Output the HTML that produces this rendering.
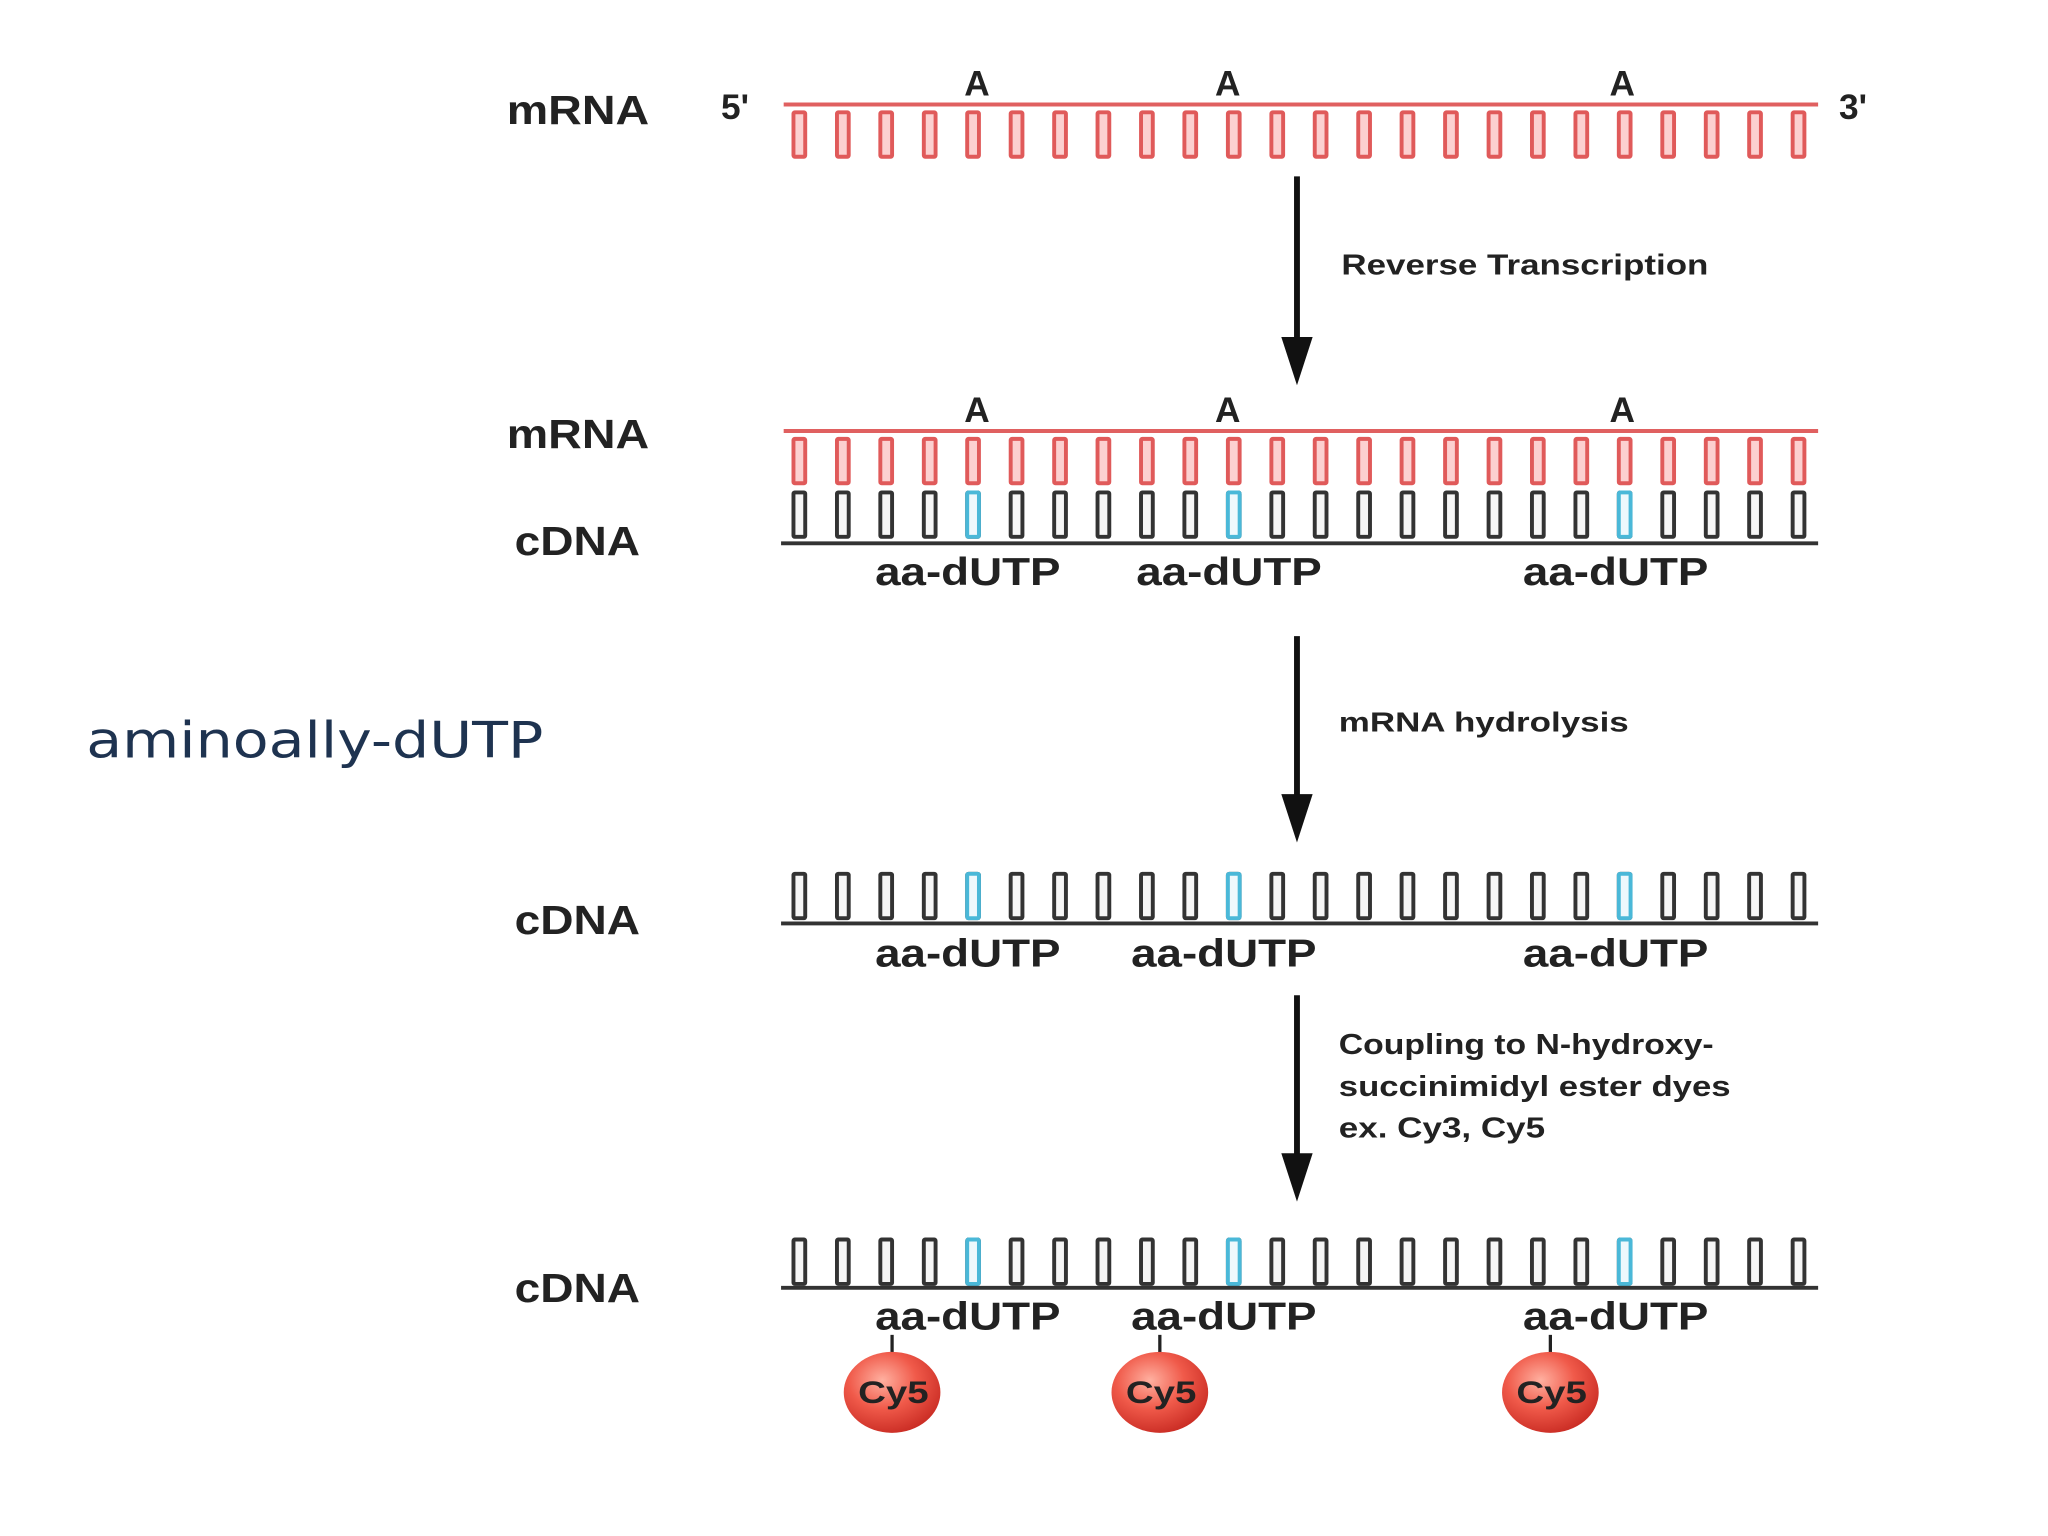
<!DOCTYPE html>
<html><head><meta charset="utf-8">
<style>
html,body{margin:0;padding:0;background:#fff;}
svg{display:block;}
.b{font-family:"Liberation Sans",Arial,sans-serif;font-weight:bold;fill:#222;}
</style></head>
<body>
<svg width="2048" height="1536" viewBox="0 0 1568 1176" xmlns="http://www.w3.org/2000/svg">
<defs>
<g id="bars" stroke-width="3">
<rect x="607.5" y="0" width="9" height="34" rx="1"/>
<rect x="640.8" y="0" width="9" height="34" rx="1"/>
<rect x="674.0" y="0" width="9" height="34" rx="1"/>
<rect x="707.3" y="0" width="9" height="34" rx="1"/>
<rect x="740.5" y="0" width="9" height="34" rx="1"/>
<rect x="773.8" y="0" width="9" height="34" rx="1"/>
<rect x="807.1" y="0" width="9" height="34" rx="1"/>
<rect x="840.3" y="0" width="9" height="34" rx="1"/>
<rect x="873.6" y="0" width="9" height="34" rx="1"/>
<rect x="906.8" y="0" width="9" height="34" rx="1"/>
<rect x="940.1" y="0" width="9" height="34" rx="1"/>
<rect x="973.4" y="0" width="9" height="34" rx="1"/>
<rect x="1006.6" y="0" width="9" height="34" rx="1"/>
<rect x="1039.9" y="0" width="9" height="34" rx="1"/>
<rect x="1073.1" y="0" width="9" height="34" rx="1"/>
<rect x="1106.4" y="0" width="9" height="34" rx="1"/>
<rect x="1139.7" y="0" width="9" height="34" rx="1"/>
<rect x="1172.9" y="0" width="9" height="34" rx="1"/>
<rect x="1206.2" y="0" width="9" height="34" rx="1"/>
<rect x="1239.4" y="0" width="9" height="34" rx="1"/>
<rect x="1272.7" y="0" width="9" height="34" rx="1"/>
<rect x="1306.0" y="0" width="9" height="34" rx="1"/>
<rect x="1339.2" y="0" width="9" height="34" rx="1"/>
<rect x="1372.5" y="0" width="9" height="34" rx="1"/>
</g>
<g id="blue" fill="#eef8fc" stroke="#4ab8d8" stroke-width="3">
<rect x="740.5" y="0" width="9" height="34" rx="1"/>
<rect x="940.1" y="0" width="9" height="34" rx="1"/>
<rect x="1239.4" y="0" width="9" height="34" rx="1"/>
</g>
<radialGradient id="cy" cx="0.4" cy="0.35" r="0.7">
<stop offset="0" stop-color="#ffb0a0"/>
<stop offset="0.5" stop-color="#f05a4a"/>
<stop offset="1" stop-color="#c82a22"/>
</radialGradient>
</defs>

<!-- Row 1 -->
<text class="b" x="388" y="95" font-size="31" textLength="109" lengthAdjust="spacingAndGlyphs">mRNA</text>
<text class="b" x="552" y="91" font-size="27">5'</text>
<text class="b" x="1408" y="91" font-size="27">3'</text>
<text class="b" x="748" y="73" font-size="27" text-anchor="middle">A</text>
<text class="b" x="940" y="73" font-size="27" text-anchor="middle">A</text>
<text class="b" x="1242" y="73" font-size="27" text-anchor="middle">A</text>
<line x1="600" y1="80" x2="1392" y2="80" stroke="#e06060" stroke-width="3"/>
<use href="#bars" y="86" stroke="#e05a5a" fill="#fcd0d0"/>

<!-- Arrow 1 -->
<line x1="993" y1="135" x2="993" y2="265" stroke="#111" stroke-width="4.5"/>
<polygon points="981,258 1005,258 993,295" fill="#111"/>
<text class="b" x="1027" y="210" font-size="22" fill="#333" textLength="281" lengthAdjust="spacingAndGlyphs">Reverse Transcription</text>

<!-- Row 2 -->
<text class="b" x="388" y="343" font-size="31" textLength="109" lengthAdjust="spacingAndGlyphs">mRNA</text>
<text class="b" x="394" y="425" font-size="31" textLength="96" lengthAdjust="spacingAndGlyphs">cDNA</text>
<text class="b" x="748" y="323" font-size="27" text-anchor="middle">A</text>
<text class="b" x="940" y="323" font-size="27" text-anchor="middle">A</text>
<text class="b" x="1242" y="323" font-size="27" text-anchor="middle">A</text>
<line x1="600" y1="330" x2="1392" y2="330" stroke="#e06060" stroke-width="3"/>
<use href="#bars" y="336" stroke="#e05a5a" fill="#fcd0d0"/>
<use href="#bars" y="377" stroke="#333" fill="#f6f6f6"/>
<use href="#blue" y="377"/>
<line x1="598" y1="416" x2="1392" y2="416" stroke="#333" stroke-width="3"/>
<text class="b" x="670" y="448" font-size="30" textLength="142" lengthAdjust="spacingAndGlyphs">aa-dUTP</text>
<text class="b" x="870" y="448" font-size="30" textLength="142" lengthAdjust="spacingAndGlyphs">aa-dUTP</text>
<text class="b" x="1166" y="448" font-size="30" textLength="142" lengthAdjust="spacingAndGlyphs">aa-dUTP</text>

<!-- Arrow 2 -->
<line x1="993" y1="487" x2="993" y2="615" stroke="#111" stroke-width="4.5"/>
<polygon points="981,608 1005,608 993,645" fill="#111"/>
<text class="b" x="1025" y="560" font-size="21" fill="#333" textLength="222" lengthAdjust="spacingAndGlyphs">mRNA hydrolysis</text>

<text x="66" y="580" font-family="DejaVu Sans, sans-serif" font-size="38" fill="#1e3350" textLength="350" lengthAdjust="spacingAndGlyphs">aminoally-dUTP</text>

<!-- Row 3 -->
<text class="b" x="394" y="715" font-size="31" textLength="96" lengthAdjust="spacingAndGlyphs">cDNA</text>
<use href="#bars" y="669" stroke="#333" fill="#f6f6f6"/>
<use href="#blue" y="669"/>
<line x1="598" y1="707" x2="1392" y2="707" stroke="#333" stroke-width="3"/>
<text class="b" x="670" y="740" font-size="30" textLength="142" lengthAdjust="spacingAndGlyphs">aa-dUTP</text>
<text class="b" x="866" y="740" font-size="30" textLength="142" lengthAdjust="spacingAndGlyphs">aa-dUTP</text>
<text class="b" x="1166" y="740" font-size="30" textLength="142" lengthAdjust="spacingAndGlyphs">aa-dUTP</text>

<!-- Arrow 3 -->
<line x1="993" y1="762" x2="993" y2="890" stroke="#111" stroke-width="4.5"/>
<polygon points="981,883 1005,883 993,920" fill="#111"/>
<text class="b" font-size="22" fill="#333" x="1025" y="807" textLength="287" lengthAdjust="spacingAndGlyphs">Coupling to N-hydroxy-</text>
<text class="b" font-size="22" fill="#333" x="1025" y="839" textLength="300" lengthAdjust="spacingAndGlyphs">succinimidyl ester dyes</text>
<text class="b" font-size="22" fill="#333" x="1025" y="871" textLength="158" lengthAdjust="spacingAndGlyphs">ex. Cy3, Cy5</text>

<!-- Row 4 -->
<text class="b" x="394" y="997" font-size="31" textLength="96" lengthAdjust="spacingAndGlyphs">cDNA</text>
<use href="#bars" y="949" stroke="#333" fill="#f6f6f6"/>
<use href="#blue" y="949"/>
<line x1="598" y1="986" x2="1392" y2="986" stroke="#333" stroke-width="3"/>
<text class="b" x="670" y="1018" font-size="30" textLength="142" lengthAdjust="spacingAndGlyphs">aa-dUTP</text>
<text class="b" x="866" y="1018" font-size="30" textLength="142" lengthAdjust="spacingAndGlyphs">aa-dUTP</text>
<text class="b" x="1166" y="1018" font-size="30" textLength="142" lengthAdjust="spacingAndGlyphs">aa-dUTP</text>

<g stroke="#222" stroke-width="2.5">
<line x1="683" y1="1022" x2="683" y2="1037"/>
<line x1="888" y1="1022" x2="888" y2="1037"/>
<line x1="1187" y1="1022" x2="1187" y2="1037"/>
</g>
<ellipse cx="683" cy="1066" rx="37" ry="31" fill="url(#cy)"/>
<ellipse cx="888" cy="1066" rx="37" ry="31" fill="url(#cy)"/>
<ellipse cx="1187" cy="1066" rx="37" ry="31" fill="url(#cy)"/>
<text class="b" x="657" y="1074" font-size="24" textLength="54" lengthAdjust="spacingAndGlyphs">Cy5</text>
<text class="b" x="862" y="1074" font-size="24" textLength="54" lengthAdjust="spacingAndGlyphs">Cy5</text>
<text class="b" x="1161" y="1074" font-size="24" textLength="54" lengthAdjust="spacingAndGlyphs">Cy5</text>
</svg>
</body></html>
